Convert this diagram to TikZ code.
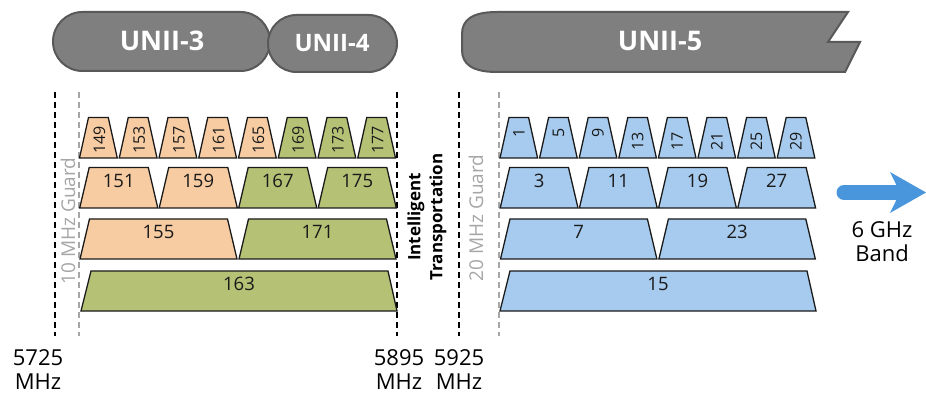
\documentclass[tikz,border=0pt]{standalone}
\usepackage{fontspec}
\setmainfont{Open Sans}
\definecolor{peach}{HTML}{F8CCA3}
\definecolor{olive}{HTML}{B5C175}
\definecolor{sky}{HTML}{A6CBEE}
\definecolor{uniifill}{HTML}{7F7F7F}
\definecolor{uniidraw}{HTML}{595959}
\definecolor{guardgray}{HTML}{A6A6A6}
\definecolor{arrowblue}{HTML}{4A96DC}
\definecolor{ink}{HTML}{1A1A1A}
\tikzset{
  chan/.style={draw=ink, line width=1.3pt, line join=miter},
  chanlabel/.style={text=ink, font=\fontsize{18.5}{20}\selectfont, inner sep=0pt},
  smalllabel/.style={text=ink, font=\fontsize{16}{17}\selectfont, inner sep=0pt, rotate=90},
  unii/.style={draw=uniidraw, fill=uniifill, line width=2pt},
  uniitext/.style={text=white, font=\bfseries\fontsize{27}{30}\selectfont},
  bandline/.style={draw=black, line width=1.6pt, dash pattern=on 6pt off 4pt},
  guardline/.style={draw=guardgray, line width=1.1pt, dash pattern=on 6pt off 4pt},
  guardtext/.style={text=guardgray, rotate=90, font=\fontsize{19}{21}\selectfont},
  freq/.style={align=center, font=\fontsize{22}{24}\selectfont, inner sep=0pt},
}
\begin{document}
\begin{tikzpicture}[x=1pt,y=-1pt]
\useasboundingbox (0,0) rectangle (926,395);

% ---- band bars ----
\draw[unii, rounded corners=29.5] (53,12) rectangle (270,71);
\node[uniitext] (u3) at (162,41) {UNII-3};
\draw[unii, rounded corners=28.5] (268,15) rectangle (397,72);
\node[uniitext, font=\bfseries\fontsize{24}{26}\selectfont] (u4) at (332,43) {UNII-4};
\draw[unii] (845,72) -- (497,72) .. controls (472,72) and (462,64) .. (462,50)
  -- (462,34) .. controls (462,20) and (472,12) .. (497,12) -- (848,12)
  -- (828,42) -- (860,42) -- cycle;
\node[uniitext] (u5) at (660,41) {UNII-5};

% ---- dashed frequency lines ----
\foreach \n/\x in {a/55,b/397,c/459}{
  \coordinate (bt\n) at (\x,92); \coordinate (bb\n) at (\x,336);
  \draw[bandline] (bt\n) -- (bb\n);
}
\foreach \n/\x in {a/79,b/499}{
  \coordinate (gt\n) at (\x,92); \coordinate (gb\n) at (\x,336);
  \draw[guardline] (gt\n) -- (gb\n);
}
\node[guardtext] (g10) at (68,221) {10 MHz Guard};
\node[guardtext] (g20) at (476,218) {20 MHz Guard};
\node[rotate=90, align=center, font=\bfseries\fontsize{17}{22}\selectfont] (its) at (427,217) {Intelligent\\Transportation};

% ---- left group (UNII-3 / UNII-4) ----
% 20 MHz
\foreach \lab/\col [count=\i from 0] in {149/peach,153/peach,157/peach,161/peach,165/peach,169/olive,173/olive,177/olive}{
  \pgfmathsetmacro\xa{79+\i*39.75+0.5}
  \pgfmathsetmacro\xb{79+(\i+1)*39.75-1.5}
  \filldraw[chan, fill=\col] (\xa,158) -- (\xa+9,117.5) -- (\xb-9,117.5) -- (\xb,158) -- cycle;
  \node[smalllabel] (c\lab) at ({(\xa+\xb)/2+1},140) {\lab};
}
% 40 MHz
\foreach \lab/\col [count=\i from 0] in {151/peach,159/peach,167/olive,175/olive}{
  \pgfmathsetmacro\xa{79+\i*79.5+0.7}
  \pgfmathsetmacro\xb{79+(\i+1)*79.5-0.7}
  \filldraw[chan, fill=\col] (\xa,208) -- (\xa+9.5,167.5) -- (\xb-9.5,167.5) -- (\xb,208) -- cycle;
  \node[chanlabel] (c\lab) at ({(\xa+\xb)/2},181) {\lab};
}
% 80 MHz
\foreach \lab/\col [count=\i from 0] in {155/peach,171/olive}{
  \pgfmathsetmacro\xa{79+\i*159+1}
  \pgfmathsetmacro\xb{79+(\i+1)*159-1}
  \filldraw[chan, fill=\col] (\xa,259) -- (\xa+9.5,219) -- (\xb-9.5,219) -- (\xb,259) -- cycle;
  \node[chanlabel] (c\lab) at ({(\xa+\xb)/2},232) {\lab};
}
% 160 MHz
\filldraw[chan, fill=olive] (81,311) -- (91,271) -- (388,271) -- (397,311) -- cycle;
\node[chanlabel] (c163) at (239,284) {163};

% ---- right group (UNII-5) ----
\foreach \lab/\anc/\yy [count=\i from 0] in {1/east/128.5,5/east/128.5,9/east/128.5,13/west/151,17/west/151,21/west/151,25/west/151,29/west/151}{
  \pgfmathsetmacro\xa{499.5+\i*39.6+0.5}
  \pgfmathsetmacro\xb{499.5+(\i+1)*39.6-1.5}
  \filldraw[chan, fill=sky] (\xa,158) -- (\xa+9,117.5) -- (\xb-9,117.5) -- (\xb,158) -- cycle;
  \node[smalllabel, anchor=\anc] (s\lab) at ({(\xa+\xb)/2},\yy) {\lab};
}
\foreach \lab [count=\i from 0] in {3,11,19,27}{
  \pgfmathsetmacro\xa{499.5+\i*79.2+0.7}
  \pgfmathsetmacro\xb{499.5+(\i+1)*79.2-0.7}
  \filldraw[chan, fill=sky] (\xa,208) -- (\xa+9.5,167.5) -- (\xb-9.5,167.5) -- (\xb,208) -- cycle;
  \node[chanlabel] (s\lab) at ({(\xa+\xb)/2},181) {\lab};
}
\foreach \lab [count=\i from 0] in {7,23}{
  \pgfmathsetmacro\xa{499.5+\i*158.4+1}
  \pgfmathsetmacro\xb{499.5+(\i+1)*158.4-1}
  \filldraw[chan, fill=sky] (\xa,259) -- (\xa+9.5,219) -- (\xb-9.5,219) -- (\xb,259) -- cycle;
  \node[chanlabel] (s\lab) at ({(\xa+\xb)/2},232) {\lab};
}
\filldraw[chan, fill=sky] (500,311) -- (510,271) -- (807,271) -- (816,311) -- cycle;
\node[chanlabel] (s15) at (658,284) {15};

% ---- frequency labels ----
\node[freq] (f5725) at (38,370) {5725\\MHz};
\node[freq] (f5895) at (399,370) {5895\\MHz};
\node[freq] (f5925) at (459,370) {5925\\MHz};

% ---- 6 GHz arrow ----
\draw[arrowblue, line width=15pt, line cap=round] (844,192.5) -- (902,192.5);
\fill[arrowblue] (890,172) -- (926,192.5) -- (890,213) -- (900,192.5) -- cycle;
\node[freq] (band) at (882,242) {6 GHz\\Band};
\end{tikzpicture}
\end{document}
